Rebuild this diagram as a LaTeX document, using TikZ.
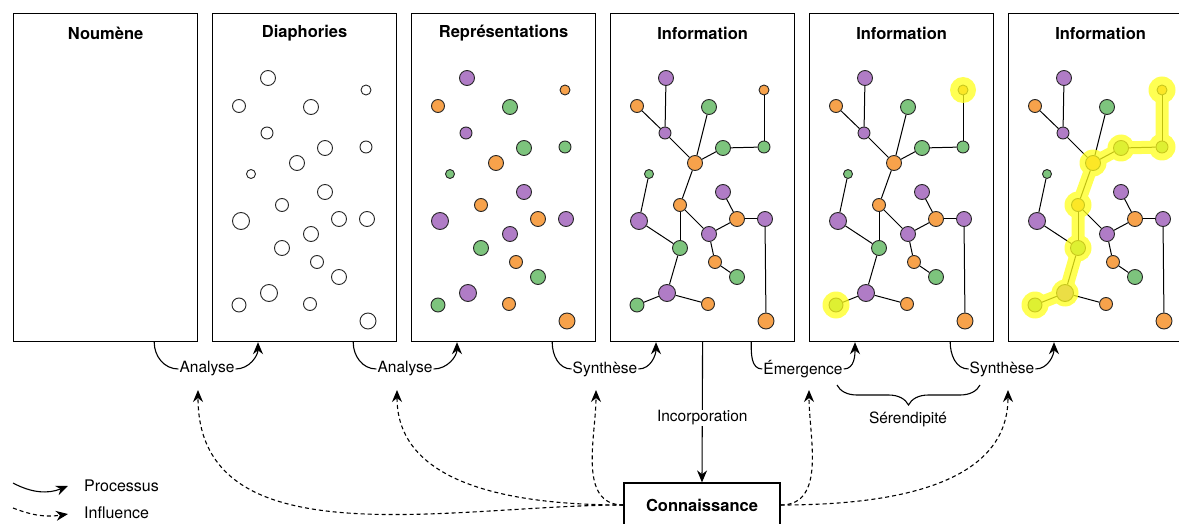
\documentclass[tikz,border=0pt]{standalone}
\usepackage{fontspec}
\setmainfont{TeX Gyre Heros}
\usetikzlibrary{positioning,arrows.meta,decorations.pathreplacing}
\definecolor{pur}{HTML}{B07CC6}
\definecolor{ora}{HTML}{F7A24B}
\definecolor{gre}{HTML}{7DC47D}
\definecolor{hl}{HTML}{FFFF1A}

\begin{document}
\begin{tikzpicture}
  [x=1pt,y=1pt,
   panel/.style={draw, line width=1.2pt, minimum width=184pt, minimum height=328pt, anchor=north west, inner sep=0pt},
   ptitle/.style={font=\fontsize{16.5}{20}\selectfont\bfseries},
   lbl/.style={font=\fontsize{15.5}{18}\selectfont, inner sep=1pt},
   blob/.style={circle, draw=black!85, line width=0.9pt, inner sep=0pt},
   link/.style={line width=1pt},
   process/.style={line width=1.1pt, -{Stealth[length=12pt,width=10pt]}},
   influence/.style={line width=1.1pt, dash pattern=on 4pt off 3pt, -{Stealth[length=12pt,width=10pt]}},
   halo/.style={hl, line width=13pt, line cap=round, line join=round}]

  \path[use as bounding box, clip] (0,0) rectangle (1179,-524);

  % panels
  \foreach \n/\x/\t in {1/13/Noumène, 2/212/Diaphories, 3/411/Représentations,
                        4/610/Information, 5/809/Information, 6/1008/Information} {
    \node[panel] (p\n) at (\x,-13) {};
    \node[ptitle] (t\n) at ([yshift=-20pt]p\n.north) {\t};
  }

  % diaphories and coloured points
  \foreach \pn/\px/\tint in {d/212/0, r/411/100, i/610/100, j/809/100, k/1008/100}
    \foreach \id/\dx/\y/\s/\c in {1/56/78/15/pur, 2/154/90/10/ora, 3/27/106/13/ora,
        4/99/107/15/gre, 5/55/133/12/pur, 6/113/148/15/gre, 7/154/147/12/gre,
        8/85/163/15/ora, 9/39/174/9/gre, 10/113/192/15/pur, 11/70/205/13/ora,
        12/29/221/17/pur, 13/127/219/15/ora, 14/155/219/15/pur, 15/99/234/15/pur,
        16/70/248/15/gre, 17/105/262/13/ora, 18/127/277/15/gre, 19/57/293/17/pur,
        20/27/305/14/gre, 21/98/304/13/ora, 22/156/321/16/ora}
      \node[blob, fill=\c!\tint!white, minimum size=\s pt] (\pn\id) at (\px+\dx,-\y) {};

  % links
  \foreach \pn in {i,j,k}
    \foreach \a/\b in {1/5, 3/5, 5/8, 4/8, 8/6, 6/7, 7/2, 8/11, 11/16, 11/15, 15/13,
                       13/10, 13/14, 14/22, 15/17, 17/18, 9/12, 12/16, 16/19, 19/20, 19/21}
      \draw[link] (\pn\a) -- (\pn\b);

  % highlights
  \fill[hl, opacity=0.75] (j2.center) circle (13pt) (j20.center) circle (13.5pt);
  \begin{scope}[transparency group, opacity=0.75]
    \draw[halo] (k20.center) -- (k19.center) -- (k16.center) -- (k11.center)
      -- (k8.center) -- (k6.center) -- (k7.center) -- (k2.center);
    \foreach \h in {20,19,16,11,8,6,7,2}
      \fill[hl] (k\h.center) circle (13.5pt);
  \end{scope}

  % processes
  \foreach \a/\b/\x/\t in {1/2/207/Analyse, 2/3/405/Analyse, 3/4/605/Synthèse,
                           4/5/803/Émergence, 5/6/1002/Synthèse} {
    \coordinate (s\a) at ([xshift=-44pt]p\a.south east);
    \coordinate (e\b) at ([xshift=46pt]p\b.south west);
    \node[lbl] (l\a) at (\x,-369) {\t};
    \draw[line width=1.1pt] (s\a) to[out=-90,in=180] (l\a.west);
    \draw[process] (l\a.east) to[out=0,in=-90] (e\b);
  }

  % knowledge
  \node[draw, line width=1.2pt, ptitle, minimum width=156pt, minimum height=44pt] (con) at (702,-505) {Connaissance};
  \draw[process] (p4.south) -- node[lbl, fill=white, pos=0.54] {Incorporation} (con.north);

  % influences
  \foreach \f/\x in {fa/198, fb/397, fc/596} {
    \coordinate (\f) at (\x,-390);
    \draw[influence] (con.west) to[out=180,in=-90] (\f);
  }
  \foreach \f/\x in {fd/809, fe/1008} {
    \coordinate (\f) at (\x,-390);
    \draw[influence] (con.east) to[out=0,in=-90] (\f);
  }

  % serendipity
  \coordinate (b1) at (837,-385);
  \coordinate (b2) at (980,-385);
  \draw[line width=1.1pt, decorate, decoration={brace, amplitude=20pt, mirror}] (b1) -- (b2);
  \node[lbl] (ser) at (908,-419) {Sérendipité};

  % legend
  \coordinate (lg1) at (13,-483);
  \coordinate (lg2) at (68,-486);
  \coordinate (lg3) at (13,-508);
  \coordinate (lg4) at (68,-514);
  \draw[process] (lg1) to[bend right=25] (lg2);
  \draw[influence] (lg3) to[bend right=15] (lg4);
  \node[lbl, font=\fontsize{16}{19}\selectfont, anchor=west] (lgp) at (83,-486) {Processus};
  \node[lbl, font=\fontsize{16}{19}\selectfont, anchor=west] (lgi) at (83,-513) {Influence};
\end{tikzpicture}
\end{document}
